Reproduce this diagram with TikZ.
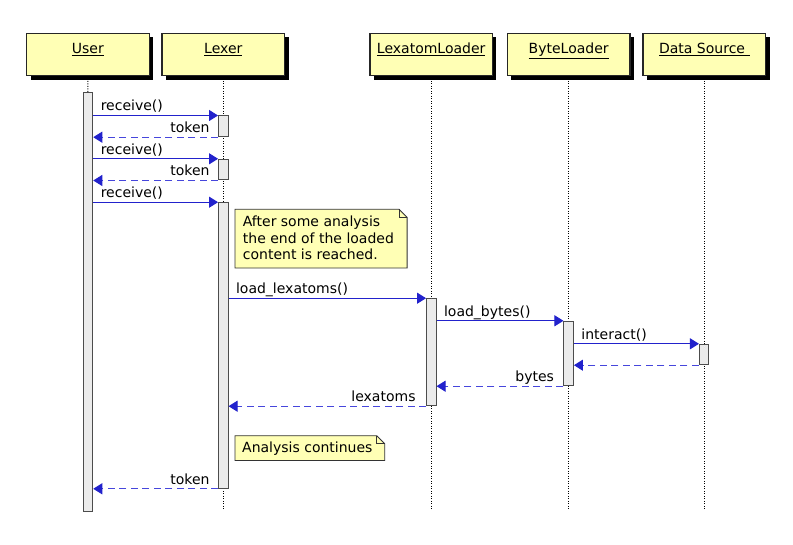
\documentclass[tikz,border=0pt]{standalone}
\usepackage{fontspec}
\setmainfont{DejaVu Sans}
\usetikzlibrary{arrows.meta,shadows}
\definecolor{hdrfill}{RGB}{255,255,181}
\definecolor{actfill}{RGB}{235,235,235}
\definecolor{msgblue}{RGB}{34,34,204}
\definecolor{retblue}{RGB}{70,70,220}
\begin{document}
\begin{tikzpicture}[x=1pt,y=-1pt,
  font=\fontsize{14}{16.7}\selectfont,
  header/.style={draw=black!85, line width=1.3pt, fill=hdrfill, minimum width=122.5pt, minimum height=42.4pt, inner sep=0pt,
    drop shadow={shadow xshift=4pt, shadow yshift=-4pt, fill=black, opacity=1}},
  hdrtext/.style={anchor=base, inner sep=0pt},
  lifeline/.style={black, line width=0.9pt, dash pattern=on 1pt off 1.5pt},
  actbar/.style={draw=black!70, line width=1pt, fill=actfill, minimum width=9.5pt, inner sep=0pt},
  msg/.style={msgblue, line width=1pt, -{Triangle[length=9pt,width=11pt]}},
  ret/.style={retblue, line width=1pt, dash pattern=on 7pt off 4.5pt, -{Triangle[length=9pt,width=11pt,color=msgblue]}},
  lbl/.style={black, inner sep=0pt},
  notebox/.style={inner sep=0pt, align=left},
  noteshape/.style={draw=black!80, line width=0.8pt, fill=hdrfill}
]
\useasboundingbox (0,0) rectangle (793,545);
\fill[white] (0,0) rectangle (793,545);

% headers
\node[header] (user) at (87.9,54.5) {};
\node[header] (lexer) at (223.3,54.5) {};
\node[header] (ll) at (431.2,54.5) {};
\node[header] (bl) at (568.7,54.5) {};
\node[header] (ds) at (704.3,54.5) {};
\node[hdrtext] (tuser) at (87.9,53.5) {\underline{User}};
\node[hdrtext] (tlexer) at (223.3,53.5) {\underline{Lexer}};
\node[hdrtext] (tll) at (431.2,53.5) {\underline{LexatomLoader}};
\node[hdrtext] (tbl) at (568.7,53.5) {\underline{ByteLoader}};
\node[hdrtext] (tds) at (704.3,53.5) {\underline{Data Source\ }};

% lifeline ends
\coordinate (userend) at (88,510);
\coordinate (lexerend) at (223.3,510);
\coordinate (llend) at (431.2,510);
\coordinate (blend) at (568.7,510);
\coordinate (dsend) at (704.3,510);
\draw[lifeline] ([yshift=-4.5pt]user.south) -- (userend);
\draw[lifeline] ([yshift=-4.5pt]lexer.south) -- (lexerend);
\draw[lifeline] ([yshift=-4.5pt]ll.south) -- (llend);
\draw[lifeline] ([yshift=-4.5pt]bl.south) -- (blend);
\draw[lifeline] ([yshift=-4.5pt]ds.south) -- (dsend);

% activation bars
\node[actbar, minimum height=418.3pt] (ua) at (88,301.85) {};
\node[actbar, minimum height=20.7pt] (la1) at (223.3,126.35) {};
\node[actbar, minimum height=20.7pt] (la2) at (223.3,169.65) {};
\node[actbar, minimum height=285.6pt] (la3) at (223.3,345.5) {};
\node[actbar, minimum height=107pt] (lla) at (431.3,352.2) {};
\node[actbar, minimum height=64.4pt] (ba) at (568.7,353.5) {};
\node[actbar, minimum height=20.4pt] (da) at (704.2,354.5) {};

% messages
\draw[msg] (ua.east |- la1.north) -- (la1.north west)
  node[lbl, pos=0, anchor=base west, xshift=7pt, yshift=4.5pt] {receive()};
\draw[ret] (la1.south west) -- (ua.east |- la1.south)
  node[lbl, pos=0, anchor=base east, xshift=-8pt, yshift=4.5pt] {token};
\draw[msg] (ua.east |- la2.north) -- (la2.north west)
  node[lbl, pos=0, anchor=base west, xshift=7pt, yshift=4.5pt] {receive()};
\draw[ret] (la2.south west) -- (ua.east |- la2.south)
  node[lbl, pos=0, anchor=base east, xshift=-8pt, yshift=4.5pt] {token};
\draw[msg] (ua.east |- la3.north) -- (la3.north west)
  node[lbl, pos=0, anchor=base west, xshift=7pt, yshift=4.5pt] {receive()};

% note 1
\node[notebox, anchor=north west, minimum width=171.7pt, minimum height=58.4pt] (n1) at (235,209.3) {};
\draw[noteshape] (n1.north west) -- ([xshift=-8pt]n1.north east) -- ([yshift=-8pt]n1.north east) -- (n1.south east) -- (n1.south west) -- cycle;
\draw[noteshape, fill=none] ([xshift=-8pt]n1.north east) |- ([yshift=-8pt]n1.north east);
\node[lbl, anchor=base west, align=left] (n1t) at (242.7,260) {After some analysis\\the end of the loaded\\content is reached.};

\draw[msg] (la3.east |- lla.north) -- (lla.north west)
  node[lbl, pos=0, anchor=base west, xshift=7pt, yshift=4.5pt] {load\_lexatoms()};
\draw[msg] (lla.east |- ba.north) -- (ba.north west)
  node[lbl, pos=0, anchor=base west, xshift=7pt, yshift=4.5pt] {load\_bytes()};
\draw[msg] (ba.east |- da.north) -- (da.north west)
  node[lbl, pos=0, anchor=base west, xshift=7pt, yshift=4.5pt] {interact()};
\draw[ret] (da.south west) -- (ba.east |- da.south);
\draw[ret] (ba.south west) -- (lla.east |- ba.south)
  node[lbl, pos=0, anchor=base east, xshift=-9pt, yshift=4.5pt] {bytes};
\draw[ret] (lla.south west) -- (la3.east |- lla.south)
  node[lbl, pos=0, anchor=base east, xshift=-10pt, yshift=4.5pt] {lexatoms};

% note 2
\node[notebox, anchor=north west, minimum width=149.3pt, minimum height=24.3pt] (n2) at (235,435.7) {};
\draw[noteshape] (n2.north west) -- ([xshift=-8pt]n2.north east) -- ([yshift=-8pt]n2.north east) -- (n2.south east) -- (n2.south west) -- cycle;
\draw[noteshape, fill=none] ([xshift=-8pt]n2.north east) |- ([yshift=-8pt]n2.north east);
\node[lbl, anchor=base west] (n2t) at (242,453) {Analysis continues};

\draw[ret] (la3.south west) -- (ua.east |- la3.south)
  node[lbl, pos=0, anchor=base east, xshift=-8pt, yshift=4.5pt] {token};
\end{tikzpicture}
\end{document}
